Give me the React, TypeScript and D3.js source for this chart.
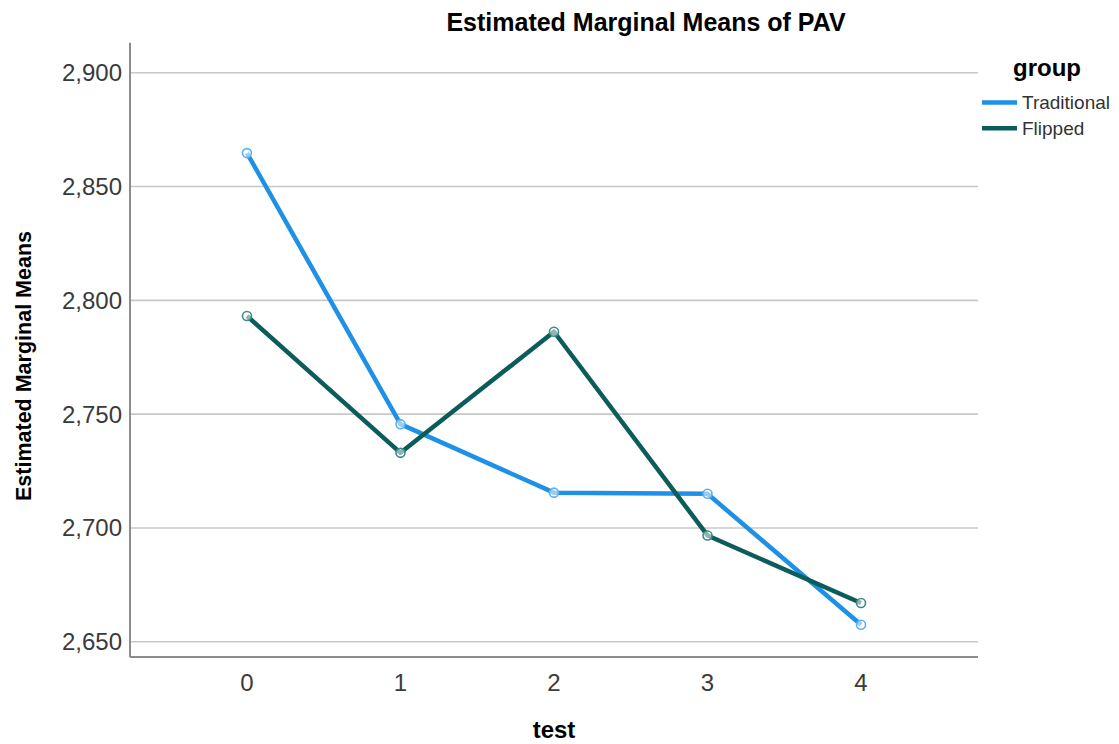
import React, { useEffect } from "react";
import * as d3 from "d3";

const tests = [0, 1, 2, 3, 4];
const traditional = [2864.7, 2745.6, 2715.5, 2715.0, 2657.5];
const flipped = [2793.1, 2733.0, 2786.2, 2696.7, 2667.0];
const yTicks = [2650, 2700, 2750, 2800, 2850, 2900];
const seriesNames = ["Traditional", "Flipped"];
const seriesColors = ["#1e90e6", "#0b5c5a"];
const markerColors = ["#5cb2f0", "#3f8a86"];

const W = 1119;
const H = 744;
const left = 130;
const right = 978;
const top = 42.7;
const bottom = 657;
const FONT = "'Liberation Sans', Arial, sans-serif";

export default function App() {
  useEffect(() => {
    document.body.style.margin = "0";
  }, []);

  const x = d3.scaleLinear().domain([-0.762, 4.762]).range([left, right]);
  const y = d3.scaleLinear().domain([2643.3, 2913.2]).range([bottom, top]);
  const fmt = d3.format(",");

  const line = d3
    .line<number>()
    .x((_, i) => x(tests[i]))
    .y((d) => y(d));

  const data = [traditional, flipped];

  return (
    <svg width={W} height={H} style={{ display: "block", background: "#fff" }}>
      {yTicks.map((t) => (
        <line key={"g" + t} x1={left} x2={right} y1={y(t)} y2={y(t)} stroke="#c8c8c8" strokeWidth={1.6} />
      ))}
      <line x1={left} x2={left} y1={top} y2={bottom} stroke="#8c8c8c" strokeWidth={2} />
      <line x1={left} x2={right} y1={bottom} y2={bottom} stroke="#8c8c8c" strokeWidth={2} />
      {yTicks.map((t) => (
        <text key={"yt" + t} x={left - 8} y={y(t)} dy="0.35em" textAnchor="end" fontFamily={FONT} fontSize={24} fill="#3a3a3a">
          {fmt(t)}
        </text>
      ))}
      {tests.map((t) => (
        <text key={"xt" + t} x={x(t)} y={691} textAnchor="middle" fontFamily={FONT} fontSize={24} fill="#3a3a3a">
          {t}
        </text>
      ))}
      {data.map((s, si) => (
        <path key={"l" + si} d={line(s) || ""} fill="none" stroke={seriesColors[si]} strokeWidth={4.5} strokeLinejoin="round" />
      ))}
      {data.map((s, si) =>
        s.map((v, i) => (
          <circle
            key={"m" + si + "-" + i}
            cx={x(tests[i])}
            cy={y(v)}
            r={4.5}
            fill="#ffffff"
            fillOpacity={0.55}
            stroke={markerColors[si]}
            strokeWidth={1.6}
          />
        ))
      )}
      <text x={646} y={31} textAnchor="middle" fontFamily={FONT} fontSize={25} fontWeight="bold" fill="#000">
        Estimated Marginal Means of PAV
      </text>
      <text x={554} y={738} textAnchor="middle" fontFamily={FONT} fontSize={24} fontWeight="bold" fill="#000">
        test
      </text>
      <text
        transform={`translate(31,366) rotate(-90)`}
        textAnchor="middle"
        fontFamily={FONT}
        fontSize={21.5}
        fontWeight="bold"
        fill="#000"
      >
        Estimated Marginal Means
      </text>
      <text x={1013} y={76} fontFamily={FONT} fontSize={24} fontWeight="bold" fill="#000">
        group
      </text>
      {seriesNames.map((n, i) => (
        <g key={"lg" + n}>
          <line x1={982} x2={1017} y1={102.5 + i * 25.7} y2={102.5 + i * 25.7} stroke={seriesColors[i]} strokeWidth={4.5} />
          <text x={1022} y={102.5 + i * 25.7} dy="0.35em" fontFamily={FONT} fontSize={19} fill="#333">
            {n}
          </text>
        </g>
      ))}
    </svg>
  );
}
